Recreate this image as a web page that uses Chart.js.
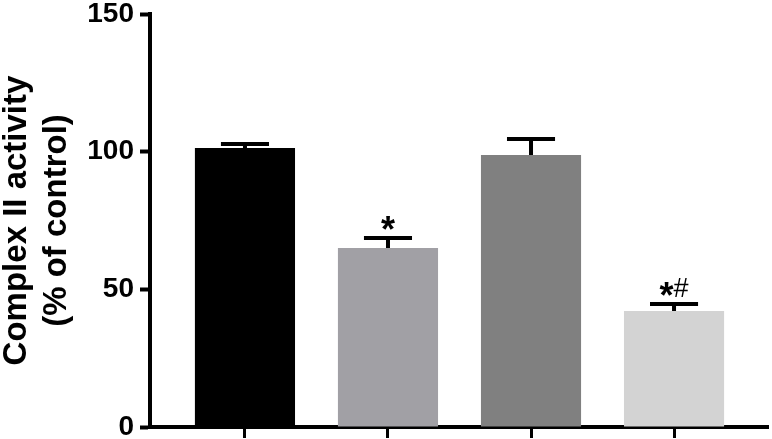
<!DOCTYPE html>
<html>
<head>
<meta charset="utf-8">
<script src="https://cdn.jsdelivr.net/npm/chart.js@4"></script>
<style>
  html, body { margin: 0; padding: 0; background: #fff; }
  #wrap { width: 772px; height: 439px; }
</style>
</head>
<body>
<div id="wrap"><canvas id="c" width="772" height="439"></canvas></div>
<script>
// values
const groups = ['Group 1', 'Group 2', 'Group 3', 'Group 4'];
const means = [101.3, 65.0, 98.8, 42.1];
const sem = [1.5, 3.6, 5.8, 2.6];
const marks = ['', '*', '', '*#'];
const barColors = ['#000000', '#a1a0a5', '#808080', '#d3d3d3'];
const yTicks = [0, 50, 100, 150];
const yTitle = ['Complex II activity', '(% of control)'];

const FONT = '"Liberation Sans", Arial, sans-serif';

// error bars + significance marks
const errorBars = {
  id: 'errorBars',
  afterDatasetsDraw(chart) {
    const ctx = chart.ctx;
    const y = chart.scales.y;
    const meta = chart.getDatasetMeta(0);
    ctx.save();
    ctx.strokeStyle = '#000';
    ctx.fillStyle = '#000';
    ctx.lineWidth = 4;
    meta.data.forEach((bar, i) => {
      const top = y.getPixelForValue(means[i] + sem[i]);
      const half = bar.width * 0.24;
      ctx.beginPath();
      ctx.moveTo(bar.x, bar.y);
      ctx.lineTo(bar.x, top);
      ctx.moveTo(bar.x - half, top);
      ctx.lineTo(bar.x + half, top);
      ctx.stroke();

      // mark: '*' bold, '#' plain
      const m = marks[i];
      if (!m) return;
      const parts = m.split('').map(ch => ({
        ch, font: ch === '*' ? 'bold 36px ' + FONT : '27px ' + FONT
      }));
      let total = 0;
      parts.forEach(p => { ctx.font = p.font; p.w = ctx.measureText(p.ch).width; total += p.w; });
      let x = bar.x - total / 2;
      ctx.textAlign = 'left';
      ctx.textBaseline = 'alphabetic';
      parts.forEach(p => {
        ctx.font = p.font;
        ctx.fillText(p.ch, x, p.ch === '*' ? top + 4 : top - 7);
        x += p.w;
      });
    });
    ctx.restore();
  }
};

new Chart(document.getElementById('c'), {
  type: 'bar',
  data: {
    datasets: [{
      data: means.map((v, i) => ({ x: i + 1, y: v })),
      backgroundColor: barColors,
      borderWidth: 0,
      barPercentage: 0.7,
      categoryPercentage: 1
    }]
  },
  options: {
    responsive: false,
    animation: false,
    layout: { padding: { top: 14, right: 4, left: 0, bottom: 0 } },
    plugins: { legend: { display: false }, tooltip: { enabled: false } },
    scales: {
      x: {
        type: 'linear',
        offset: false,
        min: 0.336,
        max: 4.657,
        afterBuildTicks: s => { s.ticks = groups.map((_, i) => ({ value: i + 1 })); },
        afterFit: s => { s.height = 12; s.paddingLeft = 0; s.paddingRight = 0; },
        ticks: { callback: () => '', padding: 0 },
        grid: { offset: false, drawOnChartArea: false, drawTicks: true, tickLength: 11, tickWidth: 3, tickColor: '#000' },
        border: { display: true, color: '#000', width: 4 }
      },
      y: {
        min: 0,
        max: 150,
        afterBuildTicks: s => { s.ticks = yTicks.map(v => ({ value: v })); },
        afterFit: s => { s.width = 150; s.paddingTop = 0; s.paddingBottom = 0; },
        ticks: {
          color: '#000',
          padding: 6,
          font: { family: FONT, size: 28, weight: 'bold' }
        },
        grid: { drawOnChartArea: false, drawTicks: true, tickLength: 10, tickWidth: 4, tickColor: '#000' },
        border: { display: true, color: '#000', width: 4 },
        title: {
          display: true,
          text: yTitle,
          color: '#000',
          padding: { top: -3, bottom: 0 },
          font: { family: FONT, size: 33, weight: 'bold', lineHeight: 1.21 }
        }
      }
    }
  },
  plugins: [errorBars]
});
</script>
</body>
</html>
